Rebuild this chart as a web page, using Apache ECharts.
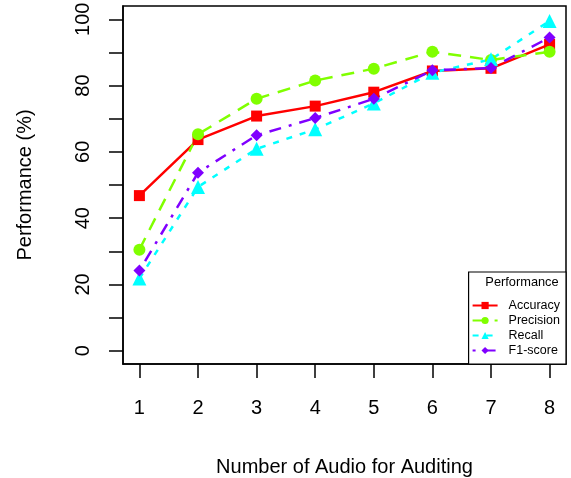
<!DOCTYPE html>
<html>
<head>
<meta charset="utf-8">
<script src="https://cdn.jsdelivr.net/npm/echarts@6/dist/echarts.min.js"></script>
<style>html,body{margin:0;padding:0;background:#fff}#c{width:571px;height:478px}</style>
</head>
<body>
<div id="c"></div>
<script>
const xValues = [1, 2, 3, 4, 5, 6, 7, 8];
const accuracy  = [46.8, 63.7, 70.8, 73.8, 78.0, 84.4, 85.2, 92.4];
const precision = [30.5, 65.3, 76.0, 81.5, 85.1, 90.2, 87.7, 90.2];
const recall    = [21.8, 49.4, 60.9, 66.8, 74.6, 83.9, 87.9, 99.5];
const f1score   = [24.2, 53.7, 65.0, 70.2, 76.0, 84.6, 85.3, 94.5];
const yTicks  = [0, 10, 20, 30, 40, 50, 60, 70, 80, 90, 100];
const yLabels = [0, 20, 40, 60, 80, 100];
const seriesNames = ['Accuracy', 'Precision', 'Recall', 'F1-score'];

const font = 'Liberation Sans, Arial, Helvetica, sans-serif';
const pair = arr => xValues.map((x, i) => [x, arr[i]]);

const chart = echarts.init(document.getElementById('c'), null, {renderer: 'canvas'});
const mk = (name, data, color, symbol, size, dash) => ({
  name, type: 'line', data: pair(data),
  symbol, symbolSize: size,
  itemStyle: {color},
  lineStyle: {color, width: 2.5, type: dash},
  emphasis: {disabled: true},
  animation: false
});
chart.setOption({
  animation: false,
  backgroundColor: '#fff',
  textStyle: {fontFamily: font},
  title: {
    text: 'Performance', left: 517, top: 271, textAlign: 'center',
    textStyle: {fontFamily: font, fontSize: 12.8, fontWeight: 'normal', color: '#000'}
  },
  grid: {
    left: 123, right: 5, top: 6, bottom: 114,
    outerBoundsMode: 'none', containLabel: false,
    show: true, borderColor: '#000', borderWidth: 1.5, backgroundColor: 'transparent'
  },
  xAxis: {
    type: 'value', min: 0.72, max: 8.28,
    name: 'Number of Audio for Auditing', nameLocation: 'middle', nameGap: 93,
    nameTextStyle: {fontFamily: font, fontSize: 20, color: '#000'},
    axisLine: {show: true, onZero: false, lineStyle: {color: '#000', width: 1.5}},
    axisTick: {show: true, inside: false, length: 14, lineStyle: {color: '#000', width: 1.5}, customValues: xValues},
    axisLabel: {fontFamily: font, fontSize: 20, color: '#000', margin: 34, customValues: xValues},
    splitLine: {show: false}
  },
  yAxis: {
    type: 'value', min: -4, max: 104,
    name: 'Performance (%)', nameLocation: 'middle', nameGap: 88,
    nameTextStyle: {fontFamily: font, fontSize: 20, color: '#000'},
    axisLine: {show: true, onZero: false, lineStyle: {color: '#000', width: 1.5}},
    axisTick: {show: true, inside: false, length: 14, lineStyle: {color: '#000', width: 1.5}, customValues: yTicks},
    axisLabel: {fontFamily: font, fontSize: 20, color: '#000', margin: 30, rotate: 90, customValues: yLabels},
    splitLine: {show: false}
  },
  legend: {
    data: seriesNames,
    orient: 'vertical', right: 5, bottom: 114,
    borderColor: '#000', borderWidth: 1.2, borderRadius: 0,
    padding: [27, 6, 7, 3],
    itemWidth: 25, itemHeight: 9, itemGap: 2,
    textStyle: {fontFamily: font, fontSize: 12.5, color: '#000', padding: [0, 0, 0, 6], lineHeight: 12.5},
    backgroundColor: '#fff'
  },
  series: [
    mk(seriesNames[0], accuracy, '#FF0000', 'rect', 11, 'solid'),
    mk(seriesNames[1], precision, '#80FF00', 'circle', 12, [13, 9]),
    mk(seriesNames[2], recall, '#00FFFF', 'triangle', 14, [6, 8]),
    mk(seriesNames[3], f1score, '#8000FF', 'diamond', 12, [3, 8, 12, 8])
  ]
});
</script>
</body>
</html>
